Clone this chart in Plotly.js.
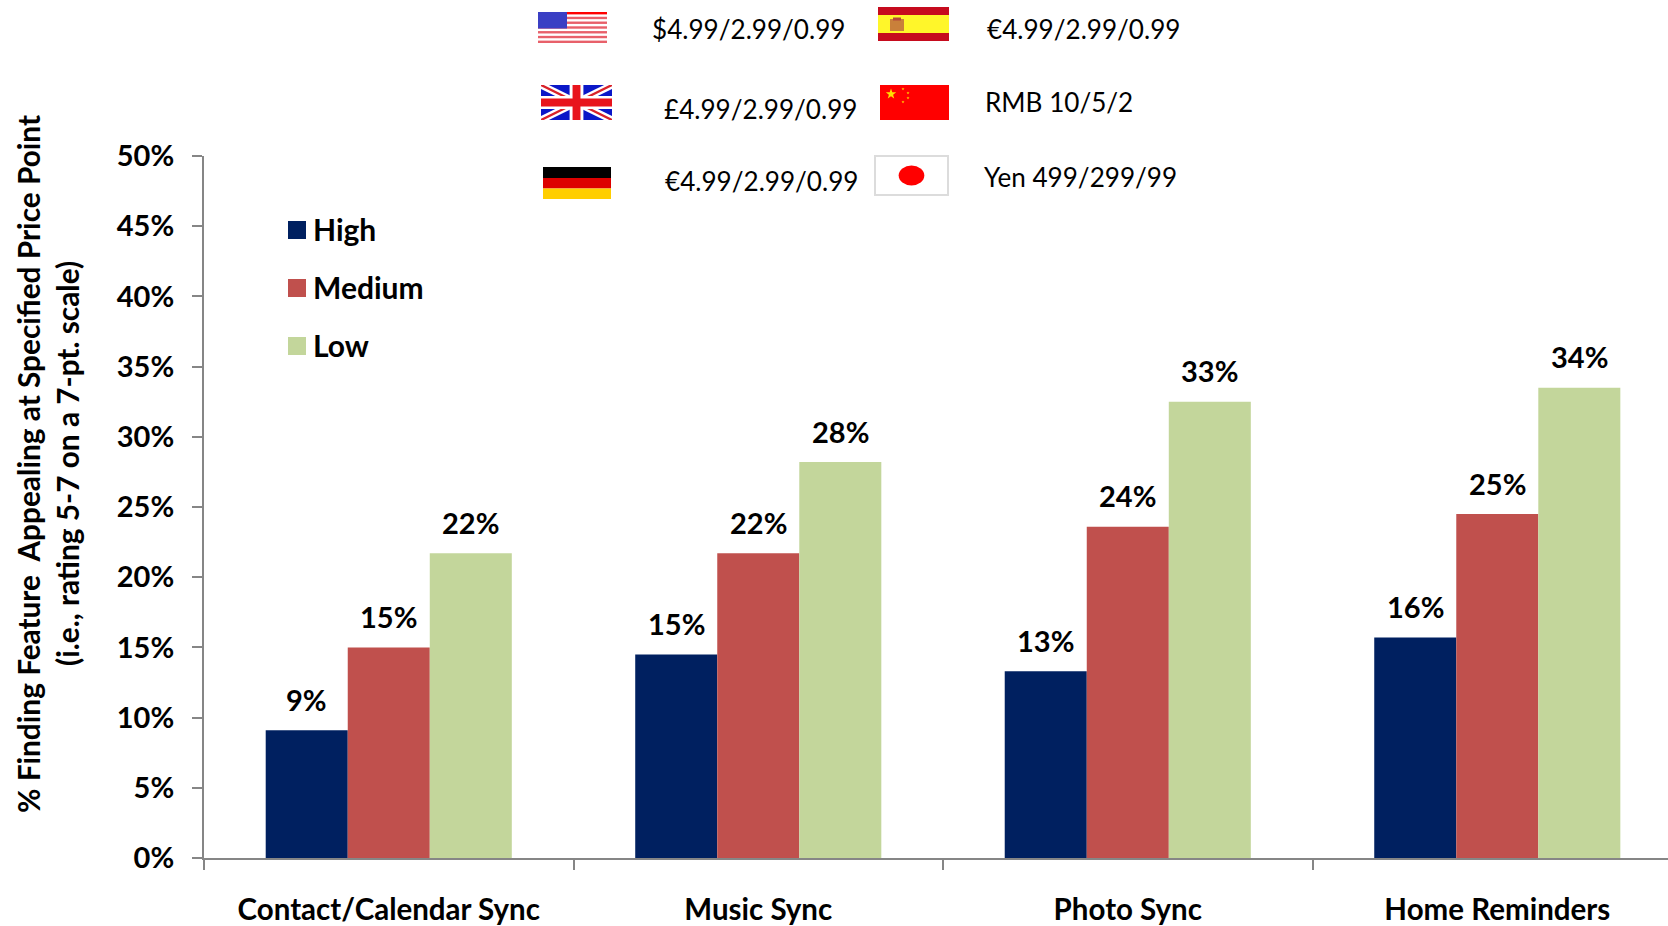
<!DOCTYPE html>
<html>
<head>
<meta charset="utf-8">
<script src="https://cdn.plot.ly/plotly-3.0.1.min.js"></script>
<style>html,body{margin:0;padding:0;background:#fff;overflow:hidden}#chart{width:1668px;height:926px}</style>
</head>
<body>
<div id="chart"></div>
<script>
const categories = ["Contact/Calendar Sync", "Music Sync", "Photo Sync", "Home Reminders"];
const seriesNames = ["High", "Medium", "Low"];
const high = [9.1, 14.5, 13.3, 15.7];
const medium = [15.0, 21.7, 23.6, 24.5];
const low = [21.7, 28.2, 32.5, 33.5];
const seriesColors = ["#002060", "#C0504D", "#C3D69B"];
const priceLabels = ["$4.99/2.99/0.99", "€4.99/2.99/0.99", "£4.99/2.99/0.99", "RMB 10/5/2", "€4.99/2.99/0.99", "Yen 499/299/99"];
const yTickVals = [0, 5, 10, 15, 20, 25, 30, 35, 40, 45, 50];
const yTickText = yTickVals.map(v => v + "%");
const yTitleLines = ["% Finding Feature  Appealing at Specified Price Point", "(i.e., rating 5-7 on a 7-pt. scale)"];

const W = 1668, H = 926;
const M = { l: 204, r: 0, t: 156, b: 68 };
const PW = W - M.l - M.r, PH = H - M.t - M.b;
const FONT = "Lato, Carlito, Calibri, sans-serif";
const AXIS = "#868686";
const px = v => (v - M.l) / PW, py = v => 1 - (v - M.t) / PH;
const allSeries = [high, medium, low];
const barGap = 0.334;
const barW = (1 - barGap) / 3;

const traces = allSeries.map((vals, k) => ({
  type: "bar", name: seriesNames[k], x: categories, y: vals,
  marker: { color: seriesColors[k], line: { width: 0 } },
  hoverinfo: "x+y", showlegend: false
}));

const annotations = [];
// Value labels
allSeries.forEach((vals, k) => vals.forEach((v, i) => annotations.push({
  x: i + (k - 1) * barW, y: v, xref: "x", yref: "y", yshift: 31,
  text: "<b>" + Math.round(v) + "%</b>", showarrow: false,
  xanchor: "center", yanchor: "middle",
  font: { family: FONT, size: 29, color: "#000" }
})));
// Two-line y title
[[28, yTitleLines[0]], [67, yTitleLines[1]]].forEach(([x, t]) => annotations.push({
  x: px(x), y: py(464), xref: "paper", yref: "paper", text: "<b>" + t + "</b>",
  textangle: -90, showarrow: false, xanchor: "center", yanchor: "middle",
  font: { family: FONT, size: 29.8, color: "#000" }
}));
// Price labels
[[650, 29], [985, 29], [662, 109], [983, 102], [663, 181], [982, 177]].forEach(([x, y], i) => annotations.push({
  x: px(x), y: py(y), xref: "paper", yref: "paper", text: priceLabels[i],
  showarrow: false, xanchor: "left", yanchor: "middle",
  font: { family: FONT, size: 26.1, color: "#000" }
}));
// Legend
const legendY = [230, 288, 346];
const shapes = [];
seriesNames.forEach((n, k) => {
  shapes.push({ type: "rect", xref: "paper", yref: "paper", x0: px(288), x1: px(306),
    y0: py(legendY[k] + 9), y1: py(legendY[k] - 9), fillcolor: seriesColors[k], line: { width: 0 } });
  annotations.push({ x: px(311), y: py(legendY[k] - 1), xref: "paper", yref: "paper",
    text: "<b>" + n + "</b>", showarrow: false, xanchor: "left", yanchor: "middle",
    font: { family: FONT, size: 30, color: "#000" } });
});

// Flags
const svg = (w, h, body) => "data:image/svg+xml;base64," + btoa(
  `<svg xmlns="http://www.w3.org/2000/svg" width="${w}" height="${h}" viewBox="0 0 ${w} ${h}">${body}</svg>`);
const r = (x, y, w, h, c) => `<rect x="${x}" y="${y}" width="${w}" height="${h}" fill="${c}"/>`;
function usFlag() {
  let s = r(0, 0, 69, 31, "#fff");
  for (let i = 0; i < 7; i++) s += r(0, i * 4.77, 69, 2.38, i === 0 ? "#f00" : "#e8606a");
  s += r(0, 0, 29, 16.5, "#3a3fc4");
  return svg(69, 31, s);
}
function esFlag() {
  return svg(71, 34, r(0, 0, 71, 34, "#C60B1E") + r(0, 8, 71, 18, "#FFF62A") +
    r(12, 12, 14, 12, "#C9803A") + r(15, 10.5, 8, 3, "#B5493A"));
}
function ukFlag() {
  return svg(72, 35,
    r(0, 0, 72, 35, "#0A17C8") +
    `<path d="M0 0L72 35M72 0L0 35" stroke="#fff" stroke-width="7"/>` +
    `<path d="M0 0L72 35M72 0L0 35" stroke="#D8222A" stroke-width="2.4"/>` +
    r(29, 0, 14, 35, "#fff") + r(0, 11, 72, 13, "#fff") +
    r(32, 0, 8, 35, "#E8141C") + r(0, 13.5, 72, 8, "#E8141C"));
}
function star(cx, cy, o, c) {
  let p = [];
  for (let i = 0; i < 10; i++) {
    const a = -Math.PI / 2 + i * Math.PI / 5, q = i % 2 ? o * 0.4 : o;
    p.push((cx + q * Math.cos(a)).toFixed(1) + "," + (cy + q * Math.sin(a)).toFixed(1));
  }
  return `<polygon points="${p.join(" ")}" fill="${c}"/>`;
}
function cnFlag() {
  return svg(69, 35, r(0, 0, 69, 35, "#FF0000") + star(11, 9, 5.5, "#FFE000") +
    star(23, 4, 1.6, "#FFE000") + star(28, 8, 1.6, "#FFE000") + star(28, 13, 1.6, "#FFE000") + star(23, 17, 1.6, "#FFE000"));
}
function deFlag() {
  return svg(68, 32, r(0, 0, 68, 11, "#000") + r(0, 11, 68, 10.5, "#DD0000") + r(0, 21.5, 68, 10.5, "#FFCE00"));
}
function jpFlag() {
  return svg(76, 41, `<rect x="1" y="1" width="74" height="39" fill="#fff" stroke="#dcdcdc" stroke-width="2"/>` +
    `<ellipse cx="38" cy="20.5" rx="13" ry="10" fill="#FF0000"/>`);
}
const flag = (src, x0, y0, x1, y1) => ({
  source: src, xref: "paper", yref: "paper", x: px(x0), y: py(y0),
  sizex: (x1 - x0) / PW, sizey: (y1 - y0) / PH, sizing: "stretch",
  xanchor: "left", yanchor: "top", layer: "above"
});
const images = [
  flag(usFlag(), 538, 12, 607, 43),
  flag(esFlag(), 878, 7, 949, 41),
  flag(ukFlag(), 541, 85, 612, 120),
  flag(cnFlag(), 880, 85, 949, 120),
  flag(deFlag(), 543, 167, 611, 199),
  flag(jpFlag(), 874, 155, 949, 196)
];

const layout = {
  width: W, height: H,
  margin: { l: M.l, r: M.r, t: M.t, b: M.b, pad: 0 },
  paper_bgcolor: "#fff", plot_bgcolor: "#fff",
  barmode: "group", bargap: barGap, bargroupgap: 0,
  showlegend: false,
  xaxis: {
    type: "category", range: [-0.5, 3.462], tickson: "boundaries",
    ticks: "outside", ticklen: 10, tickwidth: 2, tickcolor: AXIS,
    showline: true, linecolor: AXIS, linewidth: 2, showgrid: false, zeroline: false,
    ticklabelstandoff: 25,
    tickfont: { family: FONT, size: 29.5, color: "#000", weight: 700 }
  },
  yaxis: {
    range: [0, 50], tickvals: yTickVals, ticktext: yTickText,
    ticks: "outside", ticklen: 10, tickwidth: 2, tickcolor: AXIS,
    showline: true, linecolor: AXIS, linewidth: 2, showgrid: false, zeroline: false,
    ticklabelstandoff: 12,
    tickfont: { family: FONT, size: 29, color: "#000", weight: 700 }
  },
  annotations, shapes, images
};
Plotly.newPlot("chart", traces, layout, { displayModeBar: false, staticPlot: true });
</script>
</body>
</html>
